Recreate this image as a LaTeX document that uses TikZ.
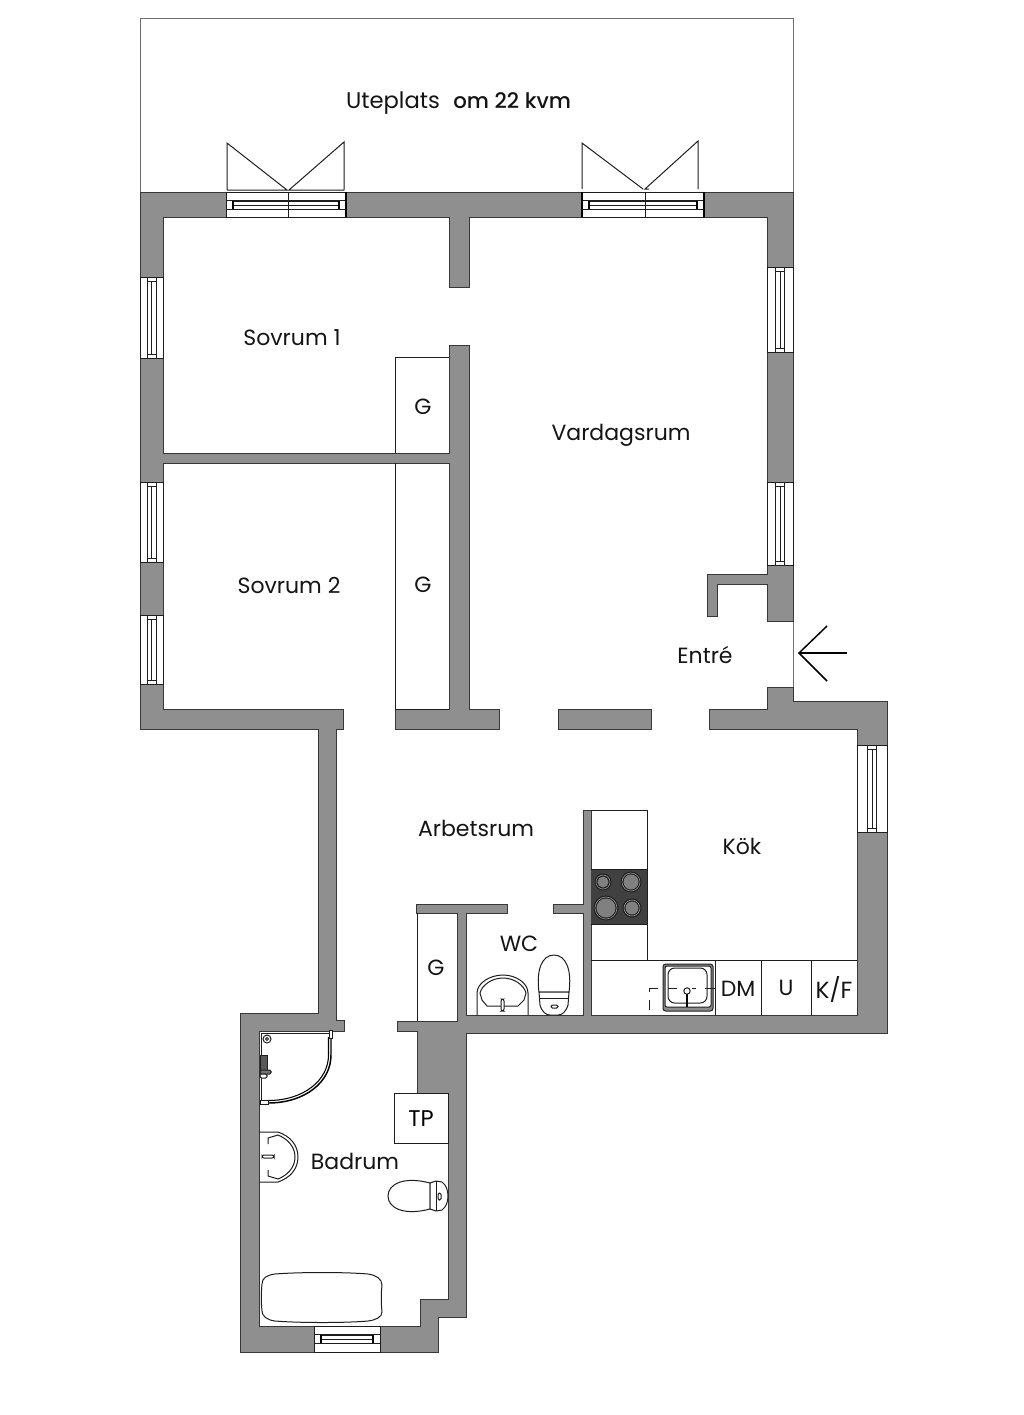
\documentclass[tikz,border=0pt]{standalone}
\usepackage{fontspec}
\setmainfont{Poppins}
\newfontfamily\poppinsmed{Poppins Medium}
\tikzset{
  wall/.style={draw={rgb, 255:red, 55; green, 55; blue, 55},fill={rgb, 255:red, 143; green, 143; blue, 143},line width=0.7},
  fixture/.style={draw={rgb, 255:red, 30; green, 30; blue, 30},line width=0.75},
  outdoor/.style={draw={rgb, 255:red, 110; green, 110; blue, 110},line width=0.75},
  roomlabel/.style={font=\fontsize{16.5}{20}\selectfont,text={rgb, 255:red, 20; green, 20; blue, 20},inner sep=0pt},
}
\newcommand{\vwin}[4]{%
  \draw [fixture,fill=white] (#1,#3) rectangle (#2,#4) ;
  \draw [fixture] ({(#1+#2)/2-4.5},#3) rectangle ({(#1+#2)/2+4.5},#4) ;
  \draw [fixture] ({(#1+#2)/2-4.5},#3+4) -- ({(#1+#2)/2+4.5},#3+4) ;
  \draw [fixture] ({(#1+#2)/2-4.5},#4-4) -- ({(#1+#2)/2+4.5},#4-4) ;
  \draw [fixture] ({(#1+#2)/2},#3+4) -- ({(#1+#2)/2},#4-4) ;
}
\newcommand{\hwin}[4]{%
  \draw [fixture,fill=white] (#1,#3) rectangle (#2,#4) ;
  \draw [fixture] (#1,#3+8) -- (#2,#3+8) ;
  \draw [fixture] (#1,#3+17) -- (#2,#3+17) ;
  \draw [fixture] (#1+7,#3+9) rectangle (#2-7,#3+17) ;
  \draw [fixture] (#1+7,#3+13) -- (#2-7,#3+13) ;
  \draw [line width=1.4] (#1+7,#3+9) -- (#1+7,#3+17) ;
  \draw [line width=1.4] (#2-7,#3+9) -- (#2-7,#3+17) ;
}
\newcommand{\burner}[3]{%
  \fill [black!88] (#1,#2) circle [radius=#3] ;
  \draw [white!55!black,line width=0.5] (#1,#2) circle [radius=#3-1.5] ;
  \fill [white!50!black] (#1,#2) circle [radius=#3-3] ;
}
\begin{document}
\begin{tikzpicture}[x=0.75pt,y=0.75pt,yscale=-1,xscale=1]
\fill [white] (0,0) rectangle (1024,1415) ;
\draw [outdoor] (140,192) -- (140,18) -- (793,18) -- (793,192) ;
\draw [outdoor] (793,621) -- (793,688) ;
\draw [wall] (140,192) -- (226,192) -- (226,217) -- (163,217) -- (163,277) -- (140,277) -- cycle ;
\draw [wall] (346,192) -- (582,192) -- (582,217) -- (469,217) -- (469,287) -- (449,287) -- (449,217) -- (346,217) -- cycle ;
\draw [wall] (704,192) -- (793,192) -- (793,267) -- (767,267) -- (767,217) -- (704,217) -- cycle ;
\draw [wall] (767,352) -- (793,352) -- (793,482) -- (767,482) -- cycle ;
\draw [wall] (767,565) -- (793,565) -- (793,621) -- (767,621) -- (767,584) -- (717,584) -- (717,616) -- (707,616) -- (707,574) -- (767,574) -- cycle ;
\draw [wall] (767,687) -- (793,687) -- (793,701) -- (887,701) -- (887,745) -- (857,745) -- (857,729) -- (709,729) -- (709,709) -- (767,709) -- cycle ;
\draw [wall] (140,358) -- (163,358) -- (163,453) -- (449,453) -- (449,345) -- (469,345) -- (469,709) -- (499,709) -- (499,729) -- (395,729) -- (395,709) -- (449,709) -- (449,463) -- (163,463) -- (163,482) -- (140,482) -- cycle ;
\draw [wall] (140,562) -- (163,562) -- (163,615) -- (140,615) -- cycle ;
\draw [wall] (558,709) -- (651,709) -- (651,729) -- (558,729) -- cycle ;
\draw [wall] (140,684) -- (163,684) -- (163,709) -- (343,709) -- (343,729) -- (336,729) -- (336,1020) -- (344,1020) -- (344,1031) -- (259,1031) -- (259,1326) -- (314,1326) -- (314,1352) -- (240,1352) -- (240,1013) -- (318,1013) -- (318,729) -- (140,729) -- cycle ;
\draw [wall] (591,810) -- (583,810) -- (583,904) -- (553,904) -- (553,913) -- (583,913) -- (583,1015) -- (466,1015) -- (466,913) -- (507,913) -- (507,904) -- (416,904) -- (416,913) -- (457,913) -- (457,1021) -- (397,1021) -- (397,1031) -- (417,1031) -- (417,1093) -- (448,1093) -- (448,1299) -- (420,1299) -- (420,1326) -- (380,1326) -- (380,1352) -- (438,1352) -- (438,1317) -- (466,1317) -- (466,1033) -- (887,1033) -- (887,832) -- (857,832) -- (857,1015) -- (591,1015) -- cycle ;
\hwin{226}{346}{192}{217}
\draw [fixture] (288,192) -- (288,217) ;
\draw [line width=1.2] (346,192) -- (346,217) ;
\hwin{582}{704}{192}{217}
\draw [fixture] (645,192) -- (645,217) ;
\draw [line width=1.2] (582,192) -- (582,217) ;
\draw [line width=1.2] (704,192) -- (704,217) ;
\draw [fixture] (227,190) -- (227,143) -- (287,190) -- (227,190) ;
\draw [fixture] (344,190) -- (344,142) -- (289,190) -- (344,190) ;
\draw [fixture] (582,189) -- (582,143) -- (643,189) ;
\draw [fixture] (698,189) -- (698,141) -- (645,189) -- (649,189) ;
\vwin{140}{163}{277}{358}
\vwin{140}{163}{482}{562}
\vwin{140}{163}{615}{684}
\vwin{767}{793}{267}{352}
\vwin{767}{793}{482}{565}
\vwin{857}{887}{745}{832}
\hwin{314}{380}{1326}{1352}
\draw [line width=1.1] (827,626) -- (799,653) -- (827,681) ;
\draw [line width=1.1] (799,653) -- (847,653) ;
\draw [fixture] (395,453) -- (395,357) -- (449,357) ;
\draw [fixture] (449,709) -- (395,709) -- (395,463) ;
\draw [fixture] (417,913) -- (417,1021) ;
\draw [fixture] (591,810) -- (647,810) -- (647,960) ;
\draw [fixture] (591,960) -- (857,960) ;
\draw [fixture] (715,960) -- (715,1015) ;
\draw [fixture] (761,960) -- (761,1015) ;
\draw [fixture] (811,960) -- (811,1015) ;
\fill [black!75] (591,869) rectangle (647,924) ;
\draw [fixture] (591,869) -- (647,869) ;
\draw [fixture] (591,924) -- (647,924) ;
\burner{603}{882}{8.5}
\burner{631}{882}{10.5}
\burner{606}{908}{12.5}
\burner{632}{908}{9.5}
\draw [fixture,fill=white!55!black,rounded corners=2] (663,964) rectangle (713,1011) ;
\draw [fixture,fill=white,rounded corners=1.5] (665,966) rectangle (711,1007) ;
\draw [fixture,rounded corners=5] (668,968) rectangle (707,1003) ;
\draw [fixture,fill=white] (687,991) circle [radius=3.2] ;
\draw [line width=1.4] (687,994) -- (687,1007) ;
\draw [fixture] (649,1010) -- (649,1000) ;
\draw [fixture] (649,992) -- (649,988) -- (658,988) ;
\draw [fixture] (668,988) -- (677,988) ;
\draw [fixture] (692,988) -- (696,988) ;
\draw [fixture] (705,988) -- (715,988) ;
\draw [fixture] (477,1015) -- (477,993) .. controls (477,983) and (490,975) .. (503,975) .. controls (516,975) and (528,983) .. (528,993) -- (528,1015) ;
\draw [fixture] (482,1000) -- (480,993) .. controls (482,985) and (492,978) .. (503,978) .. controls (514,978) and (524,985) .. (526,993) -- (524,1000) -- (518,1006) -- (487,1006) -- cycle ;
\draw [fixture,fill=white,rounded corners=1.5] (501,999) rectangle (504,1011) ;
\draw [fixture,fill=white] (539,992) .. controls (536,970) and (542,955) .. (554,955) .. controls (566,955) and (572,970) .. (569,992) -- cycle ;
\draw [fixture,fill=white] (539,992) -- (569,992) -- (568,1005) .. controls (566,1012) and (562,1015) .. (558,1015) -- (550,1015) .. controls (546,1015) and (542,1012) .. (540,1005) -- cycle ;
\draw [fixture] (539,998) -- (569,998) ;
\draw [fixture,rounded corners=1] (551,1005) rectangle (558,1008) ;
\draw [fixture] (261,1033) -- (261,1102) ;
\draw [fixture] (261,1033) -- (330,1033) ;
\draw [line width=1.1] (331,1037) -- (331,1055) .. controls (331,1082) and (305,1103) .. (268,1103) ;
\draw [line width=0.8] (328.5,1037) -- (328.5,1055) .. controls (328.5,1080) and (304,1100.5) .. (268,1100.5) ;
\draw [fixture,fill=white] (329,1030) rectangle (332,1038) ;
\draw [fixture,fill=white] (260,1100) rectangle (268,1104) ;
\draw [fixture,fill=white] (267,1039) circle [radius=4] ;
\draw [fixture] (267,1039) circle [radius=1.5] ;
\draw [fixture,fill=black!65] (260,1055) rectangle (267,1070) ;
\draw [fixture,fill=black!55,rounded corners=1] (260,1070) rectangle (271,1074) ;
\draw [fixture,fill=white,rounded corners=1] (260,1074) rectangle (267,1078) ;
\draw [fixture] (259,1132) -- (278,1132) .. controls (290,1136) and (298,1145) .. (298,1157) .. controls (298,1169) and (290,1178) .. (278,1182) -- (259,1182) ;
\draw [fixture] (268,1144) -- (268,1138) -- (278,1135) .. controls (288,1139) and (295,1147) .. (295,1157) .. controls (295,1167) and (288,1175) .. (278,1179) -- (268,1176) -- (268,1170) ;
\draw [fixture,fill=white,rounded corners=1.5] (262,1155) rectangle (274,1158) ;
\draw [fixture,fill=white] (430,1183) .. controls (404,1176) and (388,1184) .. (388,1196) .. controls (388,1208) and (404,1216) .. (430,1209) -- cycle ;
\draw [fixture,fill=white] (430,1183) -- (436,1181) -- (442,1182) .. controls (446,1185) and (448,1190) .. (448,1196) .. controls (448,1202) and (446,1207) .. (442,1210) -- (436,1211) -- (430,1209) -- cycle ;
\draw [fixture] (436,1181) -- (436,1211) ;
\draw [fixture,rounded corners=1] (438,1193) rectangle (441,1200) ;
\draw [fixture] (275,1274) .. controls (300,1272) and (345,1272) .. (368,1274) .. controls (376,1275) and (382,1279) .. (382,1285) .. controls (381,1295) and (381,1302) .. (382,1312) .. controls (382,1317) and (376,1320) .. (368,1321) .. controls (345,1323) and (300,1323) .. (275,1321) .. controls (267,1320) and (262,1316) .. (262,1311) .. controls (261,1302) and (261,1294) .. (262,1284) .. controls (262,1278) and (267,1275) .. (275,1274) -- cycle ;
\node [fixture,draw,minimum width=40.5pt,minimum height=37.5pt,inner sep=0pt,fill=white,font=\fontsize{17}{20}\selectfont] (tpbox) at (421,1118.5) {TP};
\node [roomlabel,font=\fontsize{17}{20}\selectfont] (uteplats) at (393,103) {Uteplats};
\node [roomlabel,font=\fontsize{16}{20}\selectfont,right=0pt] (kvm) at (453,100.5) {\poppinsmed om 22 kvm};
\node [roomlabel] (sovrum1) at (292,338) {Sovrum 1};
\node [roomlabel] (vardagsrum) at (621,435) {Vardagsrum};
\node [roomlabel] (sovrum2) at (289,585) {Sovrum 2};
\node [roomlabel] (entre) at (705,655) {Entré};
\node [roomlabel] (arbetsrum) at (476,828) {Arbetsrum};
\node [roomlabel] (kok) at (742,846) {Kök};
\node [roomlabel] (wc) at (519,944) {WC};
\node [roomlabel] (badrum) at (355,1161) {Badrum};
\node [roomlabel] (garderob1) at (423,407) {G};
\node [roomlabel] (garderob2) at (423,585) {G};
\node [roomlabel] (garderob3) at (436,968) {G};
\node [roomlabel] (dm) at (738,989) {DM};
\node [roomlabel] (u) at (786,988) {U};
\node [roomlabel,font=\fontsize{17.5}{20}\selectfont] (kf) at (834,989) {K/F};
\end{tikzpicture}
\end{document}
